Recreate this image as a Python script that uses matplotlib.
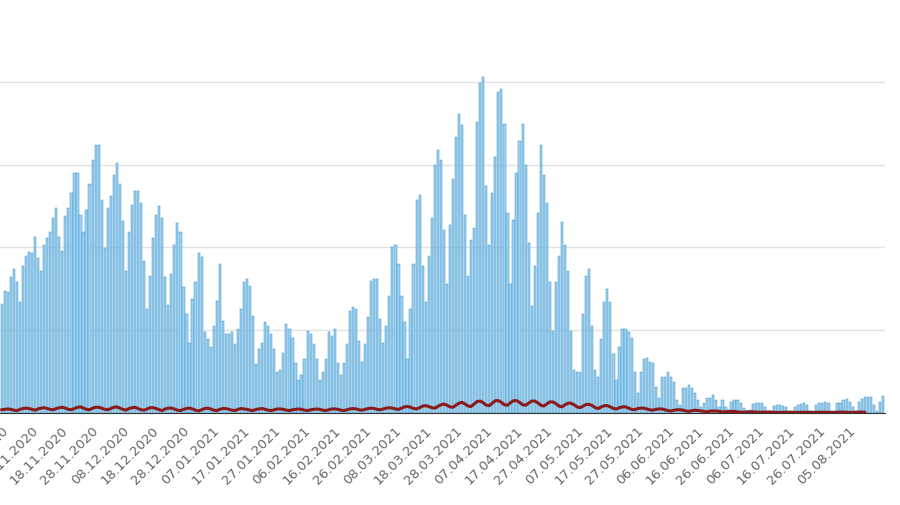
import matplotlib.pyplot as plt
import matplotlib.dates as mdates
import pandas as pd

# daily cases (one value per day)
cases = [
    1317, 1475, 1460, 1640, 1740, 1580, 1340, 1770, 1900, 1950, 1930, 2130, 1870, 1720,
    2030, 2110, 2190, 2350, 2480, 2130, 1960, 2380, 2480, 2660, 2900, 2900, 2390, 2190,
    2450, 2760, 3060, 3240, 3240, 2570, 1990, 2480, 2620, 2880, 3020, 2760, 2320, 1720,
    2190, 2510, 2680, 2680, 2540, 1830, 1260, 1660, 2110, 2390, 2500, 2350, 1640, 1300,
    1680, 2030, 2290, 2190, 1520, 1200, 850, 1380, 1580, 1930, 1890, 975, 890, 800,
    1050, 1350, 1800, 1110, 950, 950, 975, 830, 1010, 1260, 1580, 1620, 1540, 1170,
    590, 770, 850, 1100, 1050, 950, 770, 490, 520, 730, 1070, 1010, 910, 610, 400,
    460, 650, 990, 950, 830, 650, 400, 500, 650, 980, 930, 1010, 610, 460,
    610, 830, 1230, 1280, 1260, 870, 620, 830, 1160, 1600, 1620, 1620, 1130, 850,
    1050, 1410, 2010, 2030, 1800, 1410, 1100, 650, 1260, 1800, 2570, 2630, 1780, 1340,
    1900, 2350, 3000, 3170, 3050, 2210, 1560, 2270, 2820, 3330, 3610, 3480, 2390, 1650,
    2090, 2230, 3510, 3980, 4060, 2740, 2030, 2660, 3090, 3880, 3910, 3490, 2410, 1560,
    2330, 2900, 3290, 3490, 3000, 2050, 1290, 1780, 2410, 3240, 2870, 2540, 1580, 990,
    1580, 1900, 2310, 2030, 1710, 990, 520, 490, 500, 1200, 1660, 1740, 1050, 520,
    430, 890, 1340, 1500, 1340, 710, 400, 800, 1010, 1010, 975, 910, 490, 240,
    500, 650, 670, 620, 610, 320, 180, 430, 430, 500, 430, 370, 160, 100,
    300, 300, 340, 300, 240, 160, 75, 120, 180, 180, 220, 160, 75, 160,
    75, 35, 130, 160, 160, 120, 60, 20, 35, 110, 120, 120, 120, 75, 20,
    20, 85, 100, 100, 85, 75, 20, 20, 75, 100, 110, 120, 100, 20, 20,
    100, 120, 120, 130, 120, 20, 20, 120, 120, 160, 170, 130, 75, 20,
    130, 170, 195, 195, 195, 100, 20, 130, 210,
]

# second series (dark red line near the baseline)
deaths = [
    40, 45, 50, 45, 35, 30, 45, 55, 60, 55, 45, 35, 50, 60, 65, 55, 45, 40, 55, 65, 70,
    60, 45, 40, 55, 70, 75, 60, 45, 40, 60, 70, 70, 60, 45, 40, 55, 70, 75, 60, 45, 35,
    55, 65, 70, 55, 40, 35, 50, 65, 65, 55, 40, 30, 50, 60, 60, 50, 35, 30, 45, 55, 60,
    50, 35, 25, 40, 55, 60, 50, 35, 30, 45, 55, 55, 45, 35, 30, 45, 55, 50, 45, 35, 30,
    45, 50, 55, 45, 35, 30, 40, 50, 50, 45, 35, 30, 40, 45, 50, 45, 35, 30, 40, 45, 50,
    45, 35, 30, 40, 50, 50, 45, 35, 30, 40, 50, 55, 50, 40, 35, 45, 55, 60, 55, 45, 40,
    50, 60, 65, 60, 50, 45, 60, 75, 80, 70, 55, 50, 65, 85, 90, 80, 65, 60, 80, 100, 110,
    95, 75, 70, 95, 120, 130, 110, 85, 80, 110, 140, 145, 125, 95, 90, 120, 150, 150, 130,
    100, 95, 125, 150, 150, 130, 100, 95, 120, 145, 145, 125, 95, 85, 110, 135, 135, 115,
    85, 75, 100, 120, 120, 100, 75, 65, 85, 105, 105, 90, 65, 55, 75, 90, 90, 75, 55, 50,
    65, 75, 75, 60, 45, 40, 55, 60, 60, 50, 40, 35, 45, 50, 50, 40, 30, 25, 35, 40, 40,
    35, 25, 20, 30, 35, 30, 25, 20, 15, 25, 25, 25, 20, 15, 15, 20, 20, 20, 15, 10, 10,
    15, 15, 15, 12, 10, 10, 12, 12, 12, 10, 8, 8, 10, 10, 10, 10, 8, 8, 10, 10, 10, 10,
    8, 8, 10, 10, 10, 10, 8, 8, 10, 12, 12, 10, 8, 8, 10, 12, 12, 10,
]

start = pd.Timestamp('2020-10-30')
days = pd.date_range(start, periods=len(cases), freq='D')
tick_days = pd.date_range('2020-10-29', '2021-08-05', freq='10D')

fig = plt.figure(figsize=(9, 5.05), dpi=100)
ax = fig.add_axes([0.0, 0.182, 0.983, 0.812])

ax.bar(days, cases, width=0.72, color='#9fd2f0', edgecolor='#3a90c8', linewidth=0.35, zorder=2)
ax.plot(days[:len(deaths)], deaths[:len(days)], color='#8b1a1a', lw=2.2, zorder=3)

ax.set_ylim(0, 4950)
ax.set_yticks([1000, 2000, 3000, 4000])
ax.grid(axis='y', color='#e3e3e3', lw=1, zorder=0)
ax.set_xlim(start - pd.Timedelta(hours=14), days[-1] + pd.Timedelta(hours=14))

ax.set_xticks(tick_days + pd.Timedelta(hours=18))
ax.xaxis.set_major_formatter(mdates.DateFormatter('%d.%m.%Y'))
plt.setp(ax.get_xticklabels(), rotation=45, ha='right', rotation_mode='anchor',
         fontsize=9.5, color='#666666')
ax.tick_params(axis='x', length=0, pad=8)
ax.tick_params(axis='y', length=0, labelleft=False)

for s in ['top', 'right', 'left']:
    ax.spines[s].set_visible(False)
ax.spines['bottom'].set_color('#333333')

fig.savefig('out.png', dpi=100)
